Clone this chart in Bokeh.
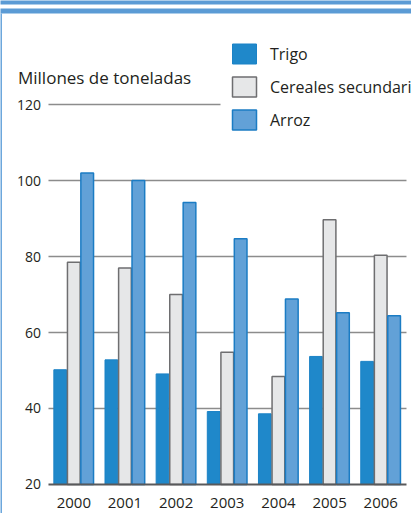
from bokeh.plotting import figure
from bokeh.models import (Range1d, ColumnDataSource, Label, BoxAnnotation, Legend)
from bokeh.transform import dodge
from bokeh.embed import file_html
from bokeh.resources import INLINE

years = ["2000", "2001", "2002", "2003", "2004", "2005", "2006"]
trigo = [50.2, 52.8, 49.1, 39.2, 38.6, 53.7, 52.4]
cereales = [78.5, 77.0, 70.0, 54.8, 48.4, 89.7, 80.3]
arroz = [102.0, 100.0, 94.2, 84.7, 68.8, 65.2, 64.4]
y_ticks = [20, 40, 60, 80, 100, 120]
series_names = ["Trigo", "Cereales secundarios", "Arroz"]
y_title = "Millones de toneladas"

FONT = {"value": "Open Sans"}
TXT = "#231f20"
GRID = "#8c8c8c"
BLUE = "#5b9bd5"

idx = list(range(len(years)))
src = ColumnDataSource(dict(x=idx, year=years, trigo=trigo, cereales=cereales, arroz=arroz))

X0, X1 = -1.433, 6.602
YMIN = y_ticks[0]
p = figure(width=411, height=513, output_backend="svg", toolbar_location=None,
           x_range=Range1d(X0, X1), y_range=Range1d(12.368, 147.37),
           x_axis_location=None, y_axis_location=None,
           min_border_left=0, min_border_right=0, min_border_top=0,
           min_border_bottom=0)
p.outline_line_color = None
p.background_fill_color = "white"
p.border_fill_color = "white"
p.xgrid.grid_line_color = None
p.ygrid.grid_line_color = None

GL, GR = -0.495, 6.504   # extent of the plotting area in x
# grid lines (top one is short)
grid_y = [t for t in y_ticks if YMIN < t < y_ticks[-1]]
p.segment(x0=GL, x1=GR, y0=grid_y, y1=grid_y, line_color=GRID, line_width=1.3)
p.segment(x0=[GL], x1=[2.868], y0=[y_ticks[-1]], y1=[y_ticks[-1]],
          line_color=GRID, line_width=1.3)

W = 0.248
r1 = p.vbar(x=dodge("x", -0.266), top="trigo", bottom=YMIN, width=W,
            source=src, fill_color="#1f88ca", line_color="#1b82c6", line_width=1)
r2 = p.vbar(x=dodge("x", 0.0), top="cereales", bottom=YMIN, width=W,
            source=src, fill_color="#e6e7e8", line_color="#6e6e70", line_width=1.5)
r3 = p.vbar(x=dodge("x", 0.262), top="arroz", bottom=YMIN, width=W,
            source=src, fill_color="#62a1d7", line_color="#1b7cc4", line_width=1.5)

# baseline (x axis line)
p.segment(x0=[GL], x1=[GR], y0=[YMIN], y1=[YMIN], line_color="#58595b", line_width=2)

# y tick labels
p.text(x=GL, y=y_ticks, text=[str(t) for t in y_ticks], x_offset=-7.5,
       text_align="right", text_baseline="middle", text_font=FONT,
       text_font_size="14px", text_color=TXT)

# x tick labels (years)
p.text(x="x", y=YMIN, text="year", source=src, y_offset=18.5,
       text_align="center", text_baseline="middle", text_font=FONT,
       text_font_size="15px", text_color=TXT)

# title
p.add_layout(Label(x=-1.091, y=127.0, text=y_title, text_font="Open Sans",
                   text_font_size="17px", text_color=TXT, text_baseline="alphabetic"))

# legend (area legend glyphs are inset by 10% on each side)
legend = Legend(items=[(series_names[0], [r1]), (series_names[1], [r2]), (series_names[2], [r3])],
                location=(229, 381), orientation="vertical",
                glyph_width=30, glyph_height=25, label_height=25, spacing=8,
                padding=0, margin=0, label_standoff=11,
                label_text_font="Open Sans", label_text_font_size="16px",
                label_text_color=TXT,
                border_line_color=None, background_fill_alpha=0)
p.add_layout(legend)

# decorative blue frame
p.add_layout(BoxAnnotation(left=-2, right=8, top=150, bottom=146.32, fill_color=BLUE,
                           fill_alpha=1, line_color=None, level="overlay"))
p.add_layout(BoxAnnotation(left=-2, right=8, top=145.26, bottom=143.95, fill_color=BLUE,
                           fill_alpha=1, line_color=None, level="overlay"))
p.add_layout(BoxAnnotation(left=-2, right=-1.404, top=143.95, bottom=0, fill_color="#6aa6dc",
                           fill_alpha=1, line_color=None, level="overlay"))

open("out.html", "w").write(file_html(p, INLINE))
